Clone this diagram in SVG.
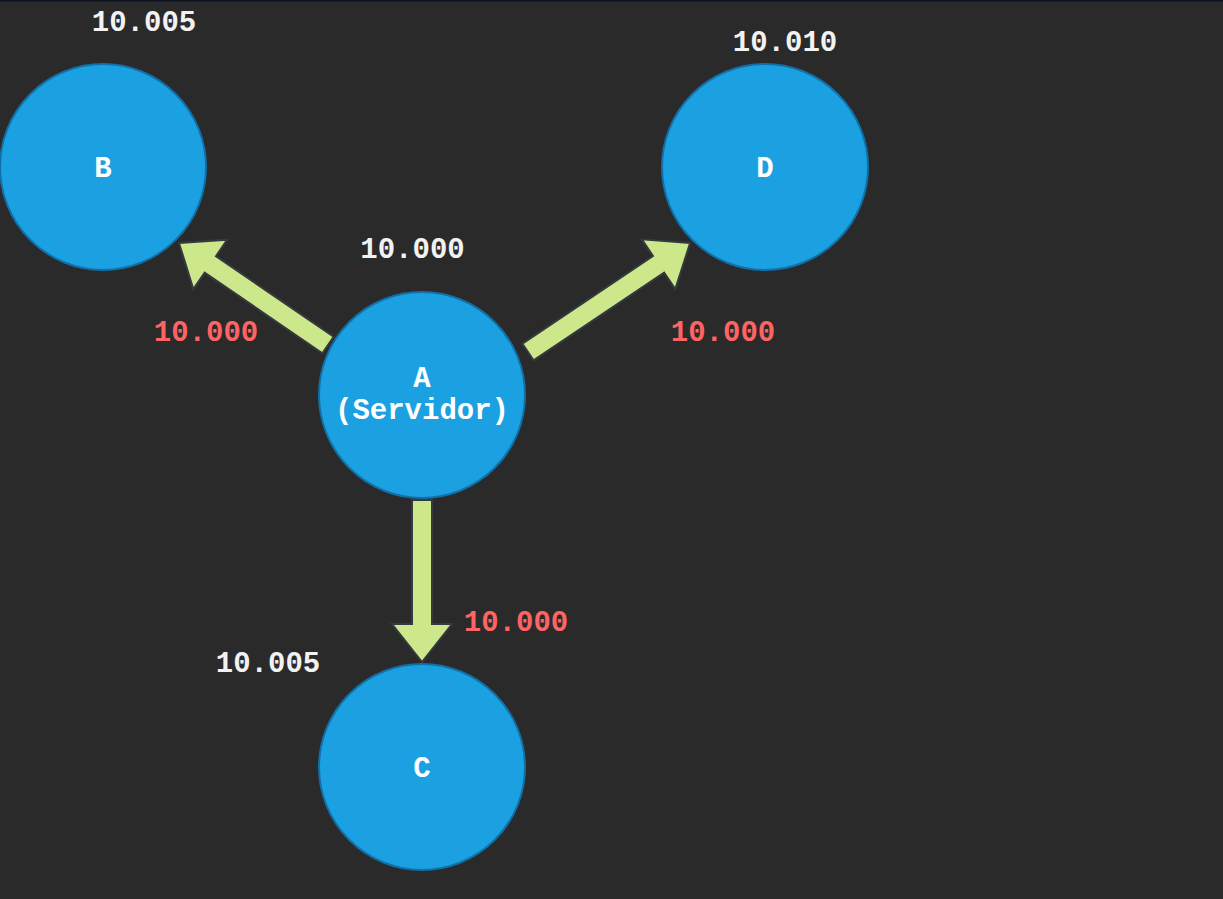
<svg xmlns="http://www.w3.org/2000/svg" width="1223" height="899" viewBox="0 0 1223 899">
<style>
.node{fill:#1ba1e2;stroke:#1270a8;stroke-width:2}
.lbl{font-family:"Liberation Mono",monospace;font-weight:bold;font-size:29px;text-anchor:middle;fill:#ffffff}
.val{font-family:"Liberation Mono",monospace;font-weight:bold;font-size:29px;text-anchor:middle;fill:#f2f2f2}
.w{font-family:"Liberation Mono",monospace;font-weight:bold;font-size:29px;text-anchor:middle;fill:#ff6464}
.arrow{fill:#cde88a;stroke:#343a40;stroke-width:2;stroke-linejoin:miter}
</style>
<rect x="0" y="0" width="1223" height="899" fill="#2a2a2a"/>
<rect x="0" y="0" width="1223" height="1.5" fill="#0b1220"/>
<g id="connectors">
<polygon class="arrow" transform="translate(328,345) rotate(214.4)" points="0,-10 142.6,-10 142.6,-30 180.6,0 142.6,30 142.6,10 0,10"/>
<polygon class="arrow" transform="translate(528,352) rotate(-33.9)" points="0,-10 157.3,-10 157.3,-30 195.3,0 157.3,30 157.3,10 0,10"/>
<polygon class="arrow" transform="translate(422,500) rotate(90)" points="0,-10 124,-10 124,-30 162,0 124,30 124,10 0,10"/>
<text class="w" x="206" y="341">10.000</text>
<text class="w" x="723" y="341">10.000</text>
<text class="w" x="516" y="631">10.000</text>
</g>
<g id="node-B">
<circle class="node" cx="103" cy="167" r="103"/>
<text class="lbl" x="103" y="177">B</text>
<text class="val" x="144" y="31">10.005</text>
</g>
<g id="node-D">
<circle class="node" cx="765" cy="167" r="103"/>
<text class="lbl" x="765" y="177">D</text>
<text class="val" x="785" y="51">10.010</text>
</g>
<g id="node-A">
<circle class="node" cx="422" cy="395" r="103"/>
<text class="lbl" x="422" y="387">A</text>
<text class="lbl" x="422" y="419">(Servidor)</text>
<text class="val" x="412.5" y="258">10.000</text>
</g>
<g id="node-C">
<circle class="node" cx="422" cy="767" r="103"/>
<text class="lbl" x="422" y="777">C</text>
<text class="val" x="268" y="672">10.005</text>
</g>
</svg>
